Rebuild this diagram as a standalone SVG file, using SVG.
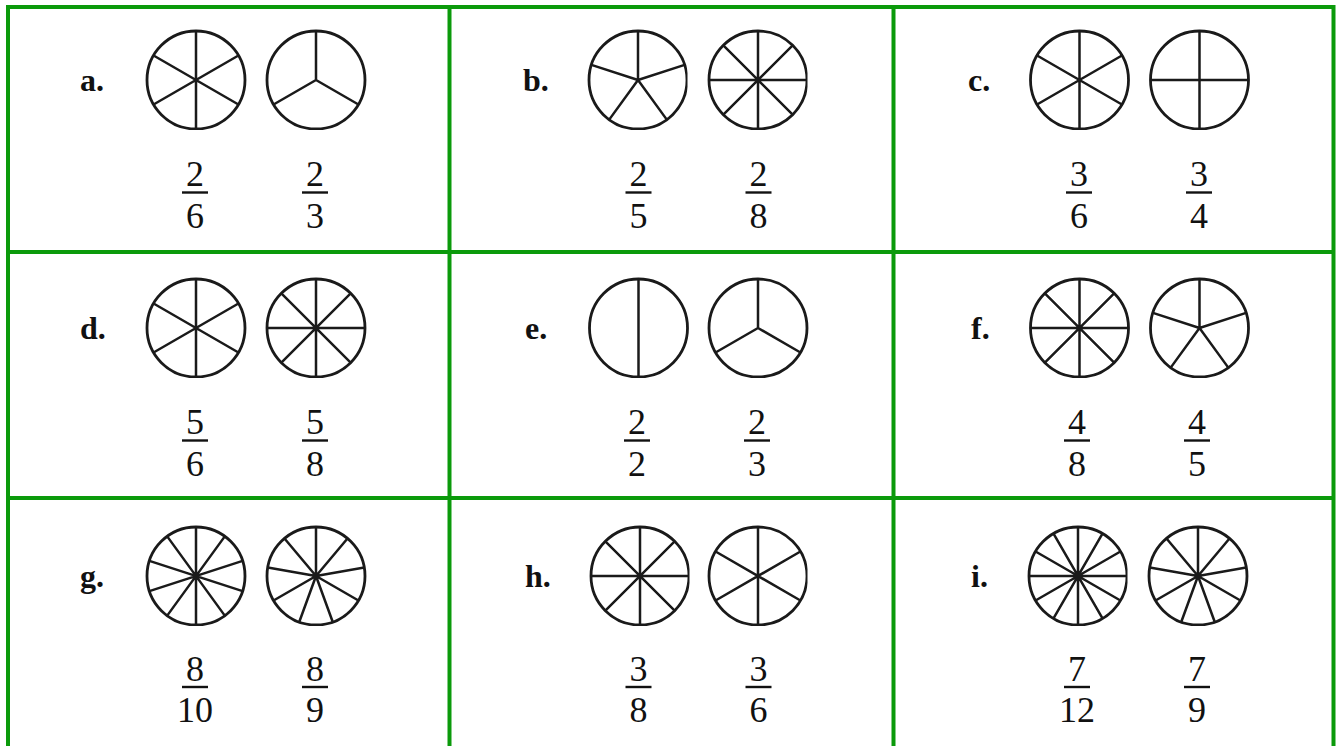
<svg xmlns="http://www.w3.org/2000/svg" xmlns:xlink="http://www.w3.org/1999/xlink" width="1338" height="746" viewBox="0 0 1338 746">
<style>
.grid{stroke:#0b9a0b;stroke-width:4;fill:none}
.pie circle{fill:none;stroke:#1a1a1a;stroke-width:2.8}
.pie path{fill:none;stroke:#1a1a1a;stroke-width:2.5}
.lbl{font-family:"Liberation Serif","Times New Roman",serif;font-weight:bold;font-size:32px;fill:#111}
.num{font-family:"Liberation Serif","Times New Roman",serif;font-size:36px;fill:#111;text-anchor:middle}
.bar{stroke:#111;stroke-width:2.4}
</style>
<defs>
<clipPath id="cb" clipPathUnits="userSpaceOnUse"><rect x="-53" y="-53" width="106" height="103"/></clipPath>
<clipPath id="cbr" clipPathUnits="userSpaceOnUse"><rect x="-53" y="-53" width="102.5" height="103"/></clipPath>
<g id="p2" class="pie"><circle r="49"/><path d="M0,-49V49"/></g>
<g id="p3" class="pie"><circle r="49"/><path d="M0,0V-49M0,0L42.44,24.5M0,0L-42.44,24.5"/></g>
<g id="p4" class="pie"><circle r="49"/><path d="M0,-49V49M-49,0H49"/></g>
<g id="p5" class="pie"><circle r="49"/><path d="M0,0V-49M0,0L46.6,-15.14M0,0L28.8,39.64M0,0L-28.8,39.64M0,0L-46.6,-15.14"/></g>
<g id="p6" class="pie"><circle r="49"/><path d="M0,-49V49M-42.44,-24.5L42.44,24.5M-42.44,24.5L42.44,-24.5"/></g>
<g id="p8" class="pie"><circle r="49"/><path d="M0,-49V49M-49,0H49M-34.65,-34.65L34.65,34.65M-34.65,34.65L34.65,-34.65"/></g>
<g id="p9" class="pie"><circle r="49"/><path d="M0,0V-49M0,0L31.5,-37.54M0,0L48.26,-8.51M0,0L42.44,24.5M0,0L16.76,46.04M0,0L-16.76,46.04M0,0L-42.44,24.5M0,0L-48.26,-8.51M0,0L-31.5,-37.54"/></g>
<g id="p10" class="pie"><circle r="49"/><path d="M0,-49V49M28.8,-39.64L-28.8,39.64M46.6,-15.14L-46.6,15.14M46.6,15.14L-46.6,-15.14M28.8,39.64L-28.8,-39.64"/></g>
<g id="p12" class="pie"><circle r="49"/><path d="M0,-49V49M-49,0H49M24.5,-42.44L-24.5,42.44M42.44,-24.5L-42.44,24.5M42.44,24.5L-42.44,-24.5M24.5,42.44L-24.5,-42.44"/></g>
</defs>
<rect width="1338" height="746" fill="#fff"/>
<g id="grid">
<path class="grid" d="M8,746V7H1333.5V746M449.5,7V746M893.5,7V746M8,252H1333.5M8,498H1333.5"/>
</g>
<g id="cell-a">
<text class="lbl" x="80" y="91">a.</text>
<g transform="translate(196,80)" clip-path="url(#cb)"><use href="#p6"/></g>
<g transform="translate(316,80)" clip-path="url(#cb)"><use href="#p3"/></g>
<text class="num" x="195" y="186">2</text><line class="bar" x1="182" y1="192.5" x2="208" y2="192.5"/><text class="num" x="195" y="228">6</text>
<text class="num" x="315" y="186">2</text><line class="bar" x1="302" y1="192.5" x2="328" y2="192.5"/><text class="num" x="315" y="228">3</text>
</g>
<g id="cell-b">
<text class="lbl" x="523" y="91">b.</text>
<g transform="translate(638,80)" clip-path="url(#cbr)"><use href="#p5"/></g>
<g transform="translate(758,80)" clip-path="url(#cbr)"><use href="#p8"/></g>
<text class="num" x="638.5" y="186">2</text><line class="bar" x1="625.5" y1="192.5" x2="651.5" y2="192.5"/><text class="num" x="638.5" y="228">5</text>
<text class="num" x="758.5" y="186">2</text><line class="bar" x1="745.5" y1="192.5" x2="771.5" y2="192.5"/><text class="num" x="758.5" y="228">8</text>
</g>
<g id="cell-c">
<text class="lbl" x="968" y="91">c.</text>
<g transform="translate(1079.5,80)" clip-path="url(#cb)"><use href="#p6"/></g>
<g transform="translate(1199.5,80)" clip-path="url(#cb)"><use href="#p4"/></g>
<text class="num" x="1079" y="186">3</text><line class="bar" x1="1066" y1="192.5" x2="1092" y2="192.5"/><text class="num" x="1079" y="228">6</text>
<text class="num" x="1199" y="186">3</text><line class="bar" x1="1186" y1="192.5" x2="1212" y2="192.5"/><text class="num" x="1199" y="228">4</text>
</g>
<g id="cell-d">
<text class="lbl" x="80" y="339">d.</text>
<g transform="translate(196,328)" clip-path="url(#cb)"><use href="#p6"/></g>
<g transform="translate(316,328)" clip-path="url(#cb)"><use href="#p8"/></g>
<text class="num" x="195" y="434">5</text><line class="bar" x1="182" y1="440.5" x2="208" y2="440.5"/><text class="num" x="195" y="476">6</text>
<text class="num" x="315" y="434">5</text><line class="bar" x1="302" y1="440.5" x2="328" y2="440.5"/><text class="num" x="315" y="476">8</text>
</g>
<g id="cell-e">
<text class="lbl" x="525" y="339">e.</text>
<g transform="translate(638.5,328)" clip-path="url(#cb)"><use href="#p2"/></g>
<g transform="translate(758,328)" clip-path="url(#cb)"><use href="#p3"/></g>
<text class="num" x="637" y="434">2</text><line class="bar" x1="624" y1="440.5" x2="650" y2="440.5"/><text class="num" x="637" y="476">2</text>
<text class="num" x="757" y="434">2</text><line class="bar" x1="744" y1="440.5" x2="770" y2="440.5"/><text class="num" x="757" y="476">3</text>
</g>
<g id="cell-f">
<text class="lbl" x="971" y="339">f.</text>
<g transform="translate(1079.5,328)" clip-path="url(#cb)"><use href="#p8"/></g>
<g transform="translate(1199.5,328)" clip-path="url(#cb)"><use href="#p5"/></g>
<text class="num" x="1077" y="434">4</text><line class="bar" x1="1064" y1="440.5" x2="1090" y2="440.5"/><text class="num" x="1077" y="476">8</text>
<text class="num" x="1197" y="434">4</text><line class="bar" x1="1184" y1="440.5" x2="1210" y2="440.5"/><text class="num" x="1197" y="476">5</text>
</g>
<g id="cell-g">
<text class="lbl" x="80" y="587">g.</text>
<g transform="translate(196,576)" clip-path="url(#cb)"><use href="#p10"/></g>
<g transform="translate(316,576)" clip-path="url(#cb)"><use href="#p9"/></g>
<text class="num" x="195" y="681">8</text><line class="bar" x1="182" y1="687" x2="208" y2="687"/><text class="num" x="195" y="722">10</text>
<text class="num" x="315" y="681">8</text><line class="bar" x1="302" y1="687" x2="328" y2="687"/><text class="num" x="315" y="722">9</text>
</g>
<g id="cell-h">
<text class="lbl" x="525" y="587">h.</text>
<g transform="translate(640,576)" clip-path="url(#cbr)"><use href="#p8"/></g>
<g transform="translate(758,576)" clip-path="url(#cbr)"><use href="#p6"/></g>
<text class="num" x="638.5" y="681">3</text><line class="bar" x1="625.5" y1="687" x2="651.5" y2="687"/><text class="num" x="638.5" y="722">8</text>
<text class="num" x="758.5" y="681">3</text><line class="bar" x1="745.5" y1="687" x2="771.5" y2="687"/><text class="num" x="758.5" y="722">6</text>
</g>
<g id="cell-i">
<text class="lbl" x="971" y="587">i.</text>
<g transform="translate(1078,576)" clip-path="url(#cbr)"><use href="#p12"/></g>
<g transform="translate(1198,576)" clip-path="url(#cb)"><use href="#p9"/></g>
<text class="num" x="1077" y="681">7</text><line class="bar" x1="1064" y1="687" x2="1090" y2="687"/><text class="num" x="1077" y="722">12</text>
<text class="num" x="1197" y="681">7</text><line class="bar" x1="1184" y1="687" x2="1210" y2="687"/><text class="num" x="1197" y="722">9</text>
</g>
</svg>
